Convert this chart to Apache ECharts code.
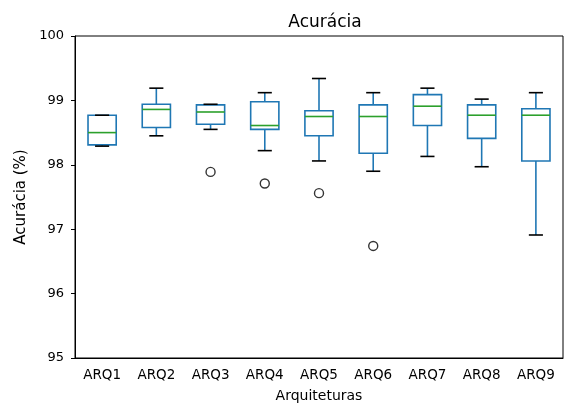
<!DOCTYPE html>
<html><head><meta charset="utf-8">
<script src="https://cdn.jsdelivr.net/npm/echarts@6/dist/echarts.min.js"></script>
<style>html,body{margin:0;padding:0;background:#fff}#c{width:565px;height:405px}</style>
</head><body><div id="c"></div>
<script>
const categories = ['ARQ1','ARQ2','ARQ3','ARQ4','ARQ5','ARQ6','ARQ7','ARQ8','ARQ9'];
const whiskerLow = [98.29, 98.45, 98.55, 98.22, 98.06, 97.90, 98.13, 97.97, 96.91];
const q1 =         [98.31, 98.58, 98.63, 98.55, 98.45, 98.18, 98.61, 98.41, 98.06];
const median =     [98.50, 98.86, 98.82, 98.61, 98.75, 98.75, 98.91, 98.77, 98.77];
const q3 =         [98.77, 98.94, 98.93, 98.98, 98.84, 98.93, 99.09, 98.93, 98.87];
const whiskerHigh =[98.77, 99.19, 98.94, 99.12, 99.34, 99.12, 99.19, 99.02, 99.12];
const outliers = [['ARQ3', 97.89], ['ARQ4', 97.71], ['ARQ5', 97.56], ['ARQ6', 96.74]];
const yTicks = [95, 96, 97, 98, 99, 100];

const boxData = categories.map((c, i) => [i, whiskerLow[i], q1[i], median[i], q3[i], whiskerHigh[i]]);
const font = 'DejaVu Sans';
const chart = echarts.init(document.getElementById('c'));
chart.setOption({
  animation: false,
  title: { text: 'Acurácia', left: 320, textAlign: 'center', top: 9, textStyle: { fontFamily: font, fontSize: 17, fontWeight: 'normal', color: '#000' } },
  grid: { left: 75, right: 2, top: 36, bottom: 47, show: true, borderColor: '#000', borderWidth: 1, containLabel: false, outerBoundsMode: 'none' },
  xAxis: {
    type: 'category', data: categories, boundaryGap: true,
    name: 'Arquiteturas', nameLocation: 'middle', nameGap: 31,
    nameTextStyle: { fontFamily: font, fontSize: 14, color: '#000' },
    axisLine: { lineStyle: { color: '#000', width: 1 } },
    axisTick: { alignWithLabel: true, length: 4, lineStyle: { color: '#000' } },
    axisLabel: { fontFamily: font, fontSize: 13.5, color: '#000', margin: 10 },
    splitLine: { show: false }
  },
  yAxis: {
    type: 'value', min: yTicks[0], max: yTicks[yTicks.length - 1], interval: 1,
    name: 'Acurácia (%)', nameLocation: 'middle', nameGap: 45, nameRotate: 90,
    nameTextStyle: { fontFamily: font, fontSize: 15, color: '#000' },
    axisLine: { show: true, lineStyle: { color: '#000', width: 1 } },
    axisTick: { show: true, length: 4, lineStyle: { color: '#000' } },
    axisLabel: { fontFamily: font, fontSize: 13, color: '#000', margin: 11 },
    splitLine: { show: false }
  },
  series: [
    {
      type: 'custom',
      data: boxData,
      renderItem: function (params, api) {
        const i = api.value(0);
        const lo = api.coord([i, api.value(1)]);
        const b1 = api.coord([i, api.value(2)]);
        const md = api.coord([i, api.value(3)]);
        const b3 = api.coord([i, api.value(4)]);
        const hi = api.coord([i, api.value(5)]);
        const bw = api.size([1, 0])[0] * 0.52;
        const cw = bw * 0.5;
        const x = lo[0];
        const blue = '#1f77b4', lw = 1.6;
        return {
          type: 'group',
          children: [
            { type: 'line', shape: { x1: x, y1: lo[1], x2: x, y2: b1[1] }, style: { stroke: blue, lineWidth: lw } },
            { type: 'line', shape: { x1: x, y1: b3[1], x2: x, y2: hi[1] }, style: { stroke: blue, lineWidth: lw } },
            { type: 'rect', shape: { x: x - bw / 2, y: b3[1], width: bw, height: b1[1] - b3[1] }, style: { fill: 'none', stroke: blue, lineWidth: lw } },
            { type: 'line', shape: { x1: x - bw / 2, y1: md[1], x2: x + bw / 2, y2: md[1] }, style: { stroke: '#2ca02c', lineWidth: lw } },
            { type: 'line', shape: { x1: x - cw / 2, y1: lo[1], x2: x + cw / 2, y2: lo[1] }, style: { stroke: '#000', lineWidth: lw } },
            { type: 'line', shape: { x1: x - cw / 2, y1: hi[1], x2: x + cw / 2, y2: hi[1] }, style: { stroke: '#000', lineWidth: lw } }
          ]
        };
      }
    },
    {
      type: 'scatter',
      data: outliers,
      symbol: 'circle', symbolSize: 9,
      itemStyle: { color: '#fff', borderColor: '#000', borderWidth: 1.4 }
    }
  ]
});
</script></body></html>
